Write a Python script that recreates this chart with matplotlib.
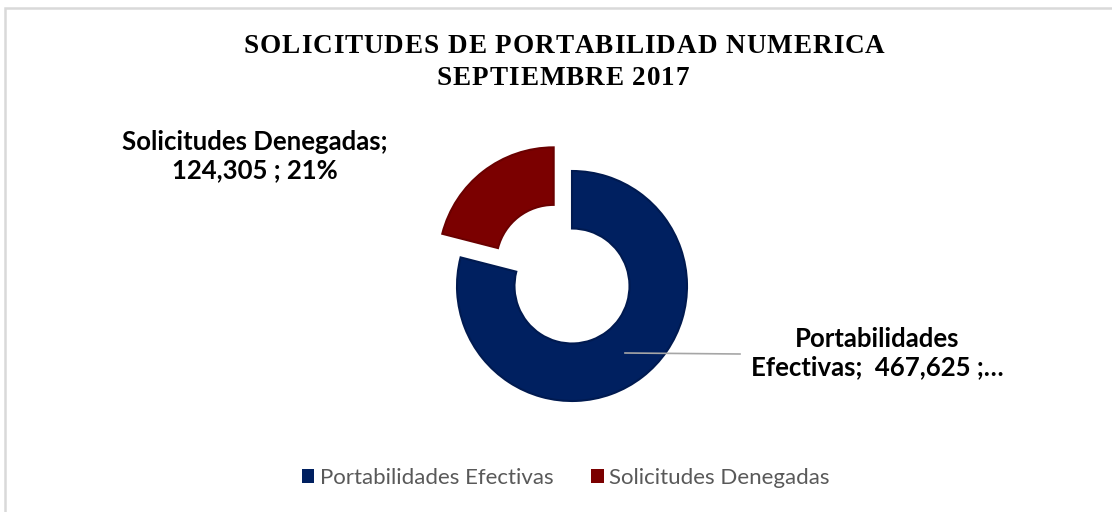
import matplotlib.pyplot as plt
from matplotlib.patches import Rectangle
from matplotlib.font_manager import FontProperties

# data
categories = ["Portabilidades Efectivas", "Solicitudes Denegadas"]
values = [467625, 124305]
colors = ["#002060", "#7B0000"]
edge_colors = ["#001a50", "#6a0000"]
explode = [0.0, 0.26]

title_lines = ["SOLICITUDES DE PORTABILIDAD NUMERICA", "SEPTIEMBRE 2017"]

W, H = 1112, 512
fig = plt.figure(figsize=(W / 100, H / 100), dpi=100)

# chart border
fig.add_artist(Rectangle((5 / W, -0.1), 1.2, 1.1 - 8 / H, transform=fig.transFigure,
                         fill=False, edgecolor="#d9d9d9", lw=1.8))

# donut axes: centre at (572, 286) px, outer radius ~115 px
r_px = 115
lim = 1.5
side = 2 * r_px * lim
cx, cy = 572, 286
ax = fig.add_axes([(cx - side / 2) / W, 1 - (cy + side / 2) / H, side / W, side / H])
wedges, _ = ax.pie(values, colors=colors, explode=explode, startangle=90,
                   counterclock=False, radius=1.0,
                   wedgeprops=dict(width=0.5, linewidth=1.5))
for w, ec in zip(wedges, edge_colors):
    w.set_edgecolor(ec)
ax.set_xlim(-lim, lim)
ax.set_ylim(-lim, lim)
ax.set_aspect("equal")
ax.axis("off")

# title with letter spacing, drawn char by char
renderer = fig.canvas.get_renderer()
fp = FontProperties(family="Liberation Serif", weight="bold", size=19.5)


def char_widths(s):
    return [renderer.get_text_width_height_descent(c, fp, ismath=False)[0] for c in s]


w0 = char_widths(title_lines[0])
tracking = (641 - sum(w0)) / (len(title_lines[0]) - 1)


def spaced_text(s, xc, y_base):
    ws = char_widths(s)
    total = sum(ws) + tracking * (len(s) - 1)
    x = xc - total / 2
    for c, w in zip(s, ws):
        fig.text(x / W, 1 - y_base / H, c, ha="left", va="baseline",
                 fontproperties=fp)
        x += w + tracking


spaced_text(title_lines[0], 564, 53)
spaced_text(title_lines[1], 563, 85)

pct = [v / sum(values) * 100 for v in values]
fig.text(255 / W, 1 - 156 / H,
         f"{categories[1]};\n{values[1]:,} ; {pct[1]:.0f}%",
         ha="center", va="center", fontsize=18.5, fontweight="bold",
         family="Lato", linespacing=1.2)
fig.text(877 / W, 1 - 353 / H,
         "Portabilidades\nEfectivas;  " + f"{values[0]:,}" + " ;\u2026",
         ha="center", va="center", fontsize=18.5, fontweight="bold",
         family="Lato", linespacing=1.2)

# leader line
fig.add_artist(plt.Line2D([625 / W, 740 / W], [1 - 353 / H, 1 - 354 / H],
                          transform=fig.transFigure, color="#a6a6a6", lw=1.2))

# legend
handles = [Rectangle((0, 0), 1, 1, facecolor=c) for c in colors]
fig.legend(handles, categories, loc="center", bbox_to_anchor=(566 / W, 1 - 478 / H),
           ncol=2, frameon=False, handlelength=0.55, handleheight=0.55,
           handletextpad=0.25, columnspacing=1.7, labelcolor="#595959",
           prop=dict(family="Lato", size=16))

fig.savefig("out.png", dpi=100)
